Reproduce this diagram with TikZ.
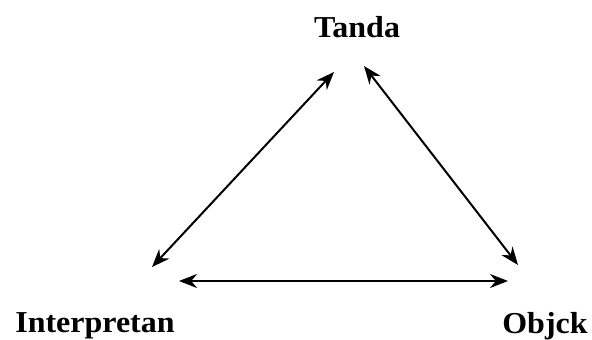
\documentclass[tikz,border=0pt]{standalone}
\usepackage{fontspec}
\setmainfont{Liberation Serif}
\usetikzlibrary{arrows.meta}
\tikzset{
  lbl/.style={font=\fontsize{32}{34}\selectfont\bfseries, inner sep=0pt, yscale=0.95},
  link/.style={line width=2pt, {Stealth[length=18pt,width=14pt]}-{Stealth[length=18pt,width=14pt]}}
}
\begin{document}
\begin{tikzpicture}[x=1pt,y=-1pt]
\useasboundingbox (0,0) rectangle (592,340);
\node[lbl] (tanda) at (357,27) {Tanda};
\node[lbl] (interp) at (95,326) {Interpretan};
\node[lbl] (objck) at (545,326) {Objck};
\coordinate (l1) at (152,267);
\coordinate (l2) at (334,72);
\coordinate (r1) at (364,66);
\coordinate (r2) at (518,265);
\coordinate (b1) at (179,281);
\coordinate (b2) at (508,281);
\draw[link] (l1) -- (l2);
\draw[link] (r1) -- (r2);
\draw[link] (b1) -- (b2);
\end{tikzpicture}
\end{document}
